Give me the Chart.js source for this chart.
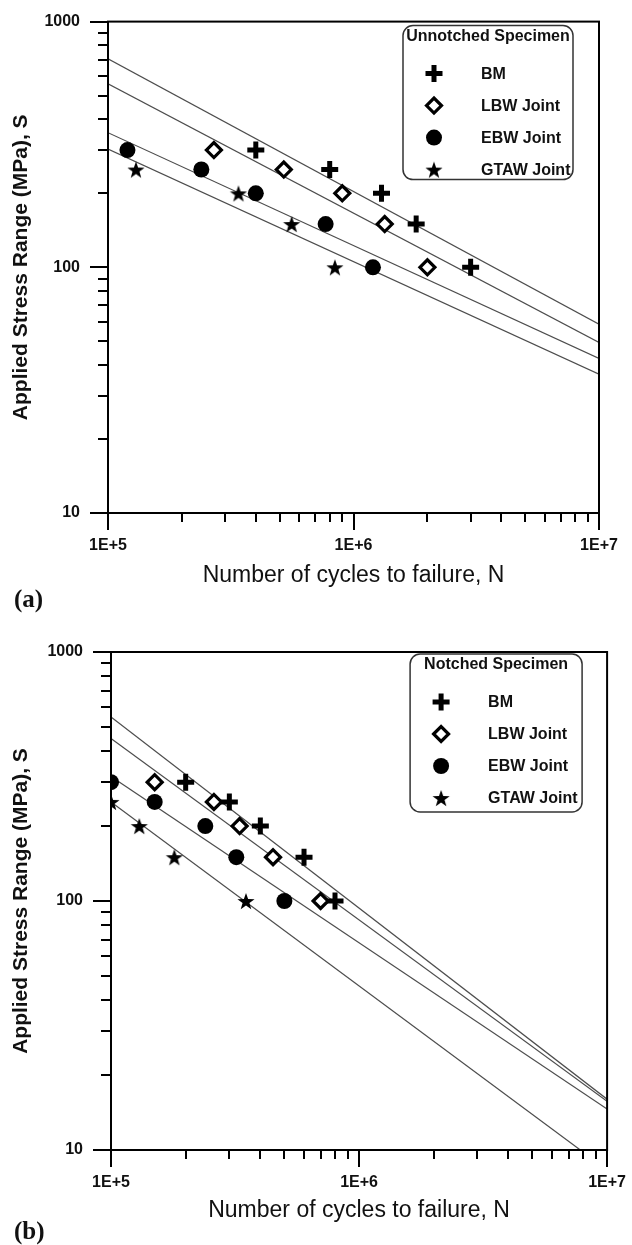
<!DOCTYPE html>
<html>
<head>
<meta charset="utf-8">
<script src="https://cdn.jsdelivr.net/npm/chart.js@4.4.0/dist/chart.umd.min.js"></script>
<style>
  html, body { margin: 0; padding: 0; background: #fff; }
  body { position: relative; width: 632px; height: 1245px; overflow: hidden; }
  canvas { position: absolute; left: 0; }
  #chartA { top: 0; }
  #chartB { top: 615px; }
  .panel { position: absolute; left: 14px; line-height: 30px; font: bold 25px "Liberation Serif", "Times New Roman", serif; color: #111; }
</style>
</head>
<body>
<canvas id="chartA" width="632" height="590"></canvas>
<canvas id="chartB" width="632" height="610"></canvas>
<div class="panel" style="top:585px">(a)</div>
<div class="panel" style="top:1217px">(b)</div>
<script>
const FONT = "'Liberation Sans', Arial, sans-serif";

// stress levels (MPa) used in the tests
const levels5 = [300, 250, 200, 150, 100];
const levels4 = [250, 200, 150, 100];

// (a) unnotched specimens - cycles to failure
const bmUnnotched = [4e5, 8e5, 1.3e6, 1.8e6, 3e6];
const lbwUnnotched = [2.7e5, 5.2e5, 9e5, 1.34e6, 2e6];
const ebwUnnotched = [1.2e5, 2.4e5, 4e5, 7.7e5, 1.2e6];
const gtawUnnotched = [1.3e5, 3.4e5, 5.6e5, 8.4e5];

// (b) notched specimens - cycles to failure
const bmNotched = [2e5, 3e5, 4e5, 6e5, 8e5];
const lbwNotched = [1.5e5, 2.6e5, 3.3e5, 4.5e5, 7e5];
const ebwNotched = [1e5, 1.5e5, 2.4e5, 3.2e5, 5e5];
const gtawNotched = [1e5, 1.3e5, 1.8e5, 3.5e5];

// fitted S-N lines (stress at the end points)
const fitN = [1e5, 1e7];
const fitUnnotched = [[705, 58.7], [558, 49.4], [353, 42.6], [303, 36.7]];
const fitNotched = [[548, 16.0], [449, 15.7], [316, 14.6]];
const fitGtawNotchedN = [1e5, 7.8e6];
const fitGtawNotchedS = [250, 10];

const seriesNames = ['BM', 'LBW Joint', 'EBW Joint', 'GTAW Joint'];

// axis ticks
const xTicks = [1e5, 2e5, 3e5, 4e5, 5e5, 6e5, 7e5, 8e5, 9e5,
                1e6, 2e6, 3e6, 4e6, 5e6, 6e6, 7e6, 8e6, 9e6, 1e7];
const yTicks = [10, 20, 30, 40, 50, 60, 70, 80, 90,
                100, 200, 300, 400, 500, 600, 700, 800, 900, 1000];
const xMajor = [1e5, 1e6, 1e7];
const xTickLabels = ['1E+5', '1E+6', '1E+7'];
const yMajor = [10, 100, 1000];
const yTickLabels = ['10', '100', '1000'];

function isDecade(v) {
    const l = Math.log10(v);
    return Math.abs(l - Math.round(l)) < 1e-6;
}

// filled five point star used as a point style
function makeStar(size, outer, inner) {
    const c = document.createElement('canvas');
    c.width = size;
    c.height = size;
    const g = c.getContext('2d');
    g.fillStyle = '#000';
    g.beginPath();
    for (let i = 0; i < 10; i++) {
        const r = i % 2 ? inner : outer;
        const a = -Math.PI / 2 + i * Math.PI / 5;
        const px = size / 2 + r * Math.cos(a);
        const py = size / 2 + 1 + r * Math.sin(a);
        if (i === 0) g.moveTo(px, py); else g.lineTo(px, py);
    }
    g.closePath();
    g.fill();
    return c;
}
const starImg = makeStar(20, 9, 3.6);

const markerStyles = [
    { pointStyle: 'cross', pointRadius: 8.5, pointBorderWidth: 5, pointBorderColor: '#000', pointBackgroundColor: '#000' },
    { pointStyle: 'rectRot', pointRadius: 7.5, pointBorderWidth: 3.2, pointBorderColor: '#000', pointBackgroundColor: '#fff' },
    { pointStyle: 'circle', pointRadius: 8, pointBorderWidth: 0, pointBorderColor: '#000', pointBackgroundColor: '#000' },
    { pointStyle: starImg, pointRadius: 8, pointBorderWidth: 0, pointBorderColor: '#000', pointBackgroundColor: '#000' }
];

function points(nList, sList) {
    return nList.map((n, i) => ({ x: n, y: sList[i] }));
}

function markerSet(i, nList, sList) {
    return Object.assign({
        label: seriesNames[i],
        inLegend: true,
        data: points(nList, sList),
        showLine: false,
        pointHoverRadius: 0,
        order: 1
    }, markerStyles[i]);
}

function fitSet(nList, sList) {
    return {
        label: '',
        data: points(nList, sList),
        showLine: true,
        borderColor: '#4d4d4d',
        borderWidth: 1.2,
        pointRadius: 0,
        order: 2
    };
}

// tick marks (long at decades, short between) and plot frame
const tickMarks = {
    id: 'tickMarks',
    afterDraw(chart) {
        const { ctx, chartArea, scales } = chart;
        ctx.save();
        ctx.strokeStyle = '#000';
        ctx.lineWidth = 2;
        ctx.beginPath();
        scales.x.ticks.forEach(t => {
            const px = Math.round(scales.x.getPixelForValue(t.value));
            const len = isDecade(t.value) ? 17 : 9;
            ctx.moveTo(px, chartArea.bottom);
            ctx.lineTo(px, chartArea.bottom + len);
        });
        scales.y.ticks.forEach(t => {
            const py = Math.round(scales.y.getPixelForValue(t.value));
            const len = isDecade(t.value) ? 18 : 10;
            ctx.moveTo(chartArea.left, py);
            ctx.lineTo(chartArea.left - len, py);
        });
        ctx.stroke();
        ctx.strokeRect(chartArea.left, chartArea.top, chartArea.width, chartArea.height);
        ctx.restore();
    }
};

// boxed legend with title, drawn inside the plot
const specLegend = {
    id: 'specLegend',
    afterDraw(chart, args, opts) {
        const { ctx, chartArea } = chart;
        const x0 = chartArea.right - opts.right - opts.width;
        const y0 = chartArea.top + opts.top;
        ctx.save();
        ctx.lineWidth = 1.5;
        ctx.strokeStyle = '#333';
        ctx.fillStyle = '#fff';
        ctx.beginPath();
        ctx.roundRect(x0, y0, opts.width, opts.height, 10);
        ctx.fill();
        ctx.stroke();

        ctx.fillStyle = '#111';
        ctx.font = `bold ${opts.titleSize}px ${FONT}`;
        ctx.textAlign = 'center';
        ctx.textBaseline = 'middle';
        ctx.fillText(opts.title, x0 + opts.width / 2, y0 + 11);

        ctx.textAlign = 'left';
        chart.data.datasets.filter(d => d.inLegend).forEach((ds, i) => {
            const cy = y0 + 48 + i * 32;
            ctx.fillStyle = ds.pointBackgroundColor;
            ctx.strokeStyle = ds.pointBorderColor;
            ctx.lineWidth = ds.pointBorderWidth;
            Chart.helpers.drawPoint(ctx, {
                pointStyle: ds.pointStyle,
                radius: ds.pointRadius,
                borderWidth: ds.pointBorderWidth,
                rotation: 0
            }, x0 + 31, cy);
            ctx.fillStyle = '#111';
            ctx.font = `bold 16px ${FONT}`;
            ctx.fillText(ds.label, x0 + 78, cy + 1);
        });
        ctx.restore();
    }
};

function buildChart(id, datasets, layout, legendOpts) {
    return new Chart(document.getElementById(id), {
        type: 'scatter',
        data: { datasets: datasets },
        options: {
            responsive: false,
            animation: false,
            events: [],
            layout: { padding: { top: layout.top, right: layout.right, left: 0, bottom: 0 } },
            plugins: {
                legend: { display: false },
                tooltip: { enabled: false },
                specLegend: legendOpts
            },
            scales: {
                x: {
                    type: 'logarithmic',
                    min: 1e5,
                    max: 1e7,
                    afterBuildTicks: s => { s.ticks = xTicks.map(v => ({ value: v })); },
                    afterFit: s => { s.height = layout.xAxisHeight; },
                    border: { color: '#000', width: 2 },
                    grid: { drawOnChartArea: false, drawTicks: true, tickLength: 17, tickColor: 'rgba(0,0,0,0)' },
                    ticks: {
                        autoSkip: false,
                        maxRotation: 0,
                        padding: 6,
                        color: '#111',
                        font: { family: FONT, size: 16, weight: 'bold' },
                        callback: v => {
                            const i = xMajor.indexOf(v);
                            return i >= 0 ? xTickLabels[i] : '';
                        }
                    },
                    title: {
                        display: true,
                        text: 'Number of cycles to failure, N',
                        color: '#111',
                        font: { family: FONT, size: 23, weight: 'normal' },
                        padding: { top: 0, bottom: layout.xTitlePad }
                    }
                },
                y: {
                    type: 'logarithmic',
                    min: 10,
                    max: 1000,
                    afterBuildTicks: s => { s.ticks = yTicks.map(v => ({ value: v })); },
                    afterFit: s => { s.width = layout.yAxisWidth; },
                    border: { color: '#000', width: 2 },
                    grid: { drawOnChartArea: false, drawTicks: true, tickLength: 16, tickColor: 'rgba(0,0,0,0)' },
                    ticks: {
                        autoSkip: false,
                        padding: 12,
                        color: '#111',
                        font: { family: FONT, size: 16, weight: 'bold' },
                        callback: v => {
                            const i = yMajor.indexOf(v);
                            return i >= 0 ? yTickLabels[i] : '';
                        }
                    },
                    title: {
                        display: true,
                        text: 'Applied Stress Range (MPa), S',
                        color: '#111',
                        font: { family: FONT, size: 21, weight: 'bold' },
                        padding: { top: 9, bottom: 0 }
                    }
                }
            }
        },
        plugins: [tickMarks, specLegend]
    });
}

// (a) unnotched
const datasetsA = [
    markerSet(0, bmUnnotched, levels5),
    markerSet(1, lbwUnnotched, levels5),
    markerSet(2, ebwUnnotched, levels5),
    markerSet(3, gtawUnnotched, levels4)
].concat(fitUnnotched.map(f => fitSet(fitN, f)));

buildChart('chartA', datasetsA,
    { top: 21, right: 33, yAxisWidth: 108, xAxisHeight: 77, xTitlePad: 1 },
    { title: 'Unnotched Specimen', titleSize: 16, right: 26, top: 4, width: 170, height: 154 });

// (b) notched
const datasetsB = [
    markerSet(0, bmNotched, levels5),
    markerSet(1, lbwNotched, levels5),
    markerSet(2, ebwNotched, levels5),
    markerSet(3, gtawNotched, levels4)
].concat(fitNotched.map(f => fitSet(fitN, f)))
 .concat([fitSet(fitGtawNotchedN, fitGtawNotchedS)]);

buildChart('chartB', datasetsB,
    { top: 37, right: 22, yAxisWidth: 111, xAxisHeight: 75, xTitlePad: 1 },
    { title: 'Notched Specimen', titleSize: 16, right: 25, top: 2, width: 172, height: 158 });
</script>
</body>
</html>
